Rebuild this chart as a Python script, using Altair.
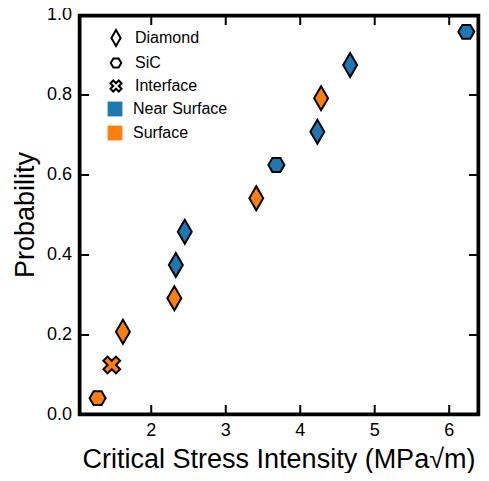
import altair as alt
import pandas as pd

# ---- data ----
stress = [1.28, 1.47, 1.62, 2.31, 2.33, 2.45, 3.41, 3.68, 4.23, 4.28, 4.67, 6.23]
prob = [0.042, 0.125, 0.208, 0.292, 0.375, 0.458, 0.542, 0.625, 0.708, 0.792, 0.875, 0.958]
origin = ["SiC", "Interface", "Diamond", "Diamond", "Diamond", "Diamond",
          "Diamond", "SiC", "Diamond", "Diamond", "Diamond", "SiC"]
location = ["Surface", "Surface", "Surface", "Surface", "Near Surface", "Near Surface",
            "Surface", "Near Surface", "Near Surface", "Surface", "Near Surface", "Near Surface"]

shape_names = ["Diamond", "SiC", "Interface"]
location_names = ["Near Surface", "Surface"]
location_colors = ["#1f77b4", "#ff7f0e"]
x_ticks = [2, 3, 4, 5, 6]
y_ticks = [0.0, 0.2, 0.4, 0.6, 0.8, 1.0]
x_domain = [1.03, 6.4]
y_domain = [0.0, 1.0]
x_title = "Critical Stress Intensity (MPa√m)"
y_title = "Probability"

# marker outlines (unit square coordinates)
diamond_path = "M0,-1L0.58,0L0,1L-0.58,0Z"
hexagon_path = "M-0.667,0L-0.333,-0.577L0.333,-0.577L0.667,0L0.333,0.577L-0.333,0.577Z"
cross_path = ("M0.35,-0.7L0.7,-0.35L0.35,0L0.7,0.35L0.35,0.7L0,0.35L-0.35,0.7"
              "L-0.7,0.35L-0.35,0L-0.7,-0.35L-0.35,-0.7L0,-0.35Z")

df = pd.DataFrame({"stress": stress, "prob": prob, "origin": origin, "location": location})

# inward tick marks on all four sides, built from the tick arrays and the domain edges
xt = pd.DataFrame({"stress": x_ticks * 2,
                   "prob": [y_domain[0]] * len(x_ticks) + [y_domain[1]] * len(x_ticks)})
yt = pd.DataFrame({"prob": y_ticks * 2,
                   "stress": [x_domain[0]] * len(y_ticks) + [x_domain[1]] * len(y_ticks)})
# frame edges
fv = pd.DataFrame({"stress": x_domain, "prob": [sum(y_domain) / 2] * 2})
fh = pd.DataFrame({"prob": y_domain, "stress": [sum(x_domain) / 2] * 2})
# tick labels and axis titles, anchored on the scales
xl = pd.DataFrame({"stress": x_ticks, "prob": [y_domain[0]] * len(x_ticks)})
yl = pd.DataFrame({"prob": y_ticks, "stress": [x_domain[0]] * len(y_ticks)})
xtt = pd.DataFrame({"stress": [sum(x_domain) / 2], "prob": [y_domain[0]], "label": [x_title]})
ytt = pd.DataFrame({"stress": [x_domain[0]], "prob": [sum(y_domain) / 2], "label": [y_title]})

W, H = 400, 400
FONT = "Liberation Sans"

xs = alt.Scale(domain=x_domain, nice=False, zero=False)
ys = alt.Scale(domain=y_domain, nice=False, zero=False)

X0 = alt.X("stress:Q", scale=xs, axis=None)
Y0 = alt.Y("prob:Q", scale=ys, axis=None)

x_tick_marks = alt.Chart(xt).mark_tick(orient="vertical", size=20, thickness=2, color="black",
                                       opacity=1, clip=True).encode(x=X0, y=Y0)
y_tick_marks = alt.Chart(yt).mark_tick(orient="horizontal", size=20, thickness=2, color="black",
                                       opacity=1, clip=True).encode(x=X0, y=Y0)
frame_v = alt.Chart(fv).mark_tick(orient="vertical", size=2 * H, thickness=5, color="black",
                                  opacity=1, clip=True).encode(x=X0, y=Y0)
frame_h = alt.Chart(fh).mark_tick(orient="horizontal", size=2 * W, thickness=5, color="black",
                                  opacity=1, clip=True).encode(x=X0, y=Y0)

x_labels = alt.Chart(xl).mark_text(font=FONT, fontSize=18, color="black", baseline="top",
                                   align="center", yOffset=7).encode(
    x=X0, y=Y0, text=alt.Text("stress:Q", format="d"))
y_labels = alt.Chart(yl).mark_text(font=FONT, fontSize=18, color="black", baseline="middle",
                                   align="right", xOffset=-7).encode(
    x=X0, y=Y0, text=alt.Text("prob:Q", format=".1f"))
x_title_mark = alt.Chart(xtt).mark_text(font=FONT, fontSize=27, color="black",
                                        baseline="alphabetic", align="center", yOffset=53).encode(
    x=X0, y=Y0, text="label:N")
y_title_mark = alt.Chart(ytt).mark_text(font=FONT, fontSize=27, color="black", angle=270,
                                        baseline="middle", align="center", xOffset=-53).encode(
    x=X0, y=Y0, text="label:N")

points = alt.Chart(df).mark_point(filled=True, stroke="black", strokeWidth=2, opacity=1, size=576).encode(
    x=X0,
    y=Y0,
    color=alt.Color("location:N",
                    scale=alt.Scale(domain=location_names, range=location_colors),
                    legend=alt.Legend(orient="none", legendX=28, legendY=86, title=None,
                                      symbolType="square", symbolSize=220, symbolStrokeWidth=0,
                                      symbolOpacity=1, labelFontSize=16, labelOffset=10,
                                      rowPadding=8, labelColor="black", padding=0)),
    shape=alt.Shape("origin:N",
                    scale=alt.Scale(domain=shape_names, range=[diamond_path, hexagon_path, cross_path]),
                    legend=alt.Legend(orient="none", legendX=28, legendY=14, title=None,
                                      symbolSize=250, symbolStrokeWidth=2, symbolStrokeColor="black",
                                      symbolFillColor="white", symbolOpacity=1, labelFontSize=16,
                                      labelOffset=10, rowPadding=4, labelColor="black", padding=0)),
)

chart = (
    alt.layer(frame_v, frame_h, x_tick_marks, y_tick_marks,
              x_labels, y_labels, x_title_mark, y_title_mark, points)
    .properties(width=W, height=H, autosize=alt.AutoSizeParams(type="none"),
                padding={"left": 71, "top": 7, "right": 2, "bottom": 58})
    .configure(font=FONT)
    .configure_view(stroke="#000000", strokeWidth=2.5)
    .configure_legend(labelFont=FONT)
)

chart.save("out.html", embed_options={"renderer": "svg", "actions": False})
